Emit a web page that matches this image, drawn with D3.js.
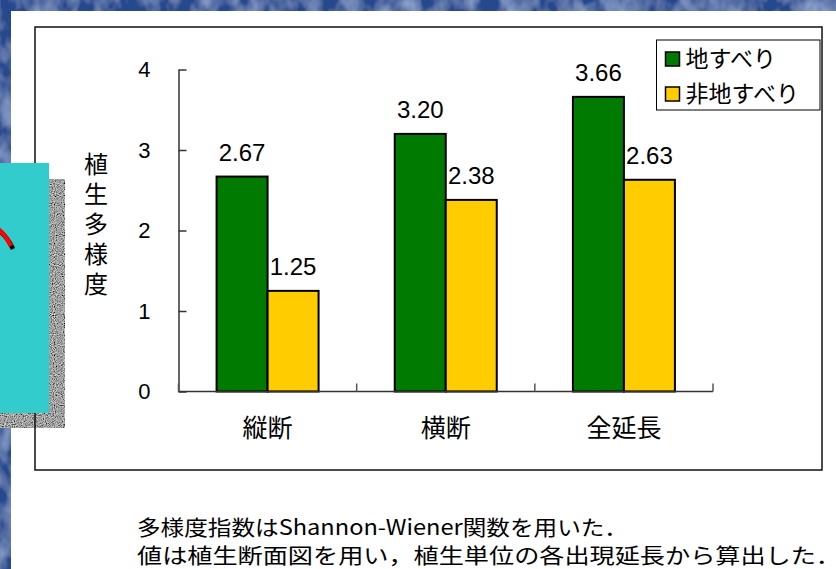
<!DOCTYPE html>
<html>
<head>
<meta charset="utf-8">
<script src="https://cdn.jsdelivr.net/npm/d3@7/dist/d3.min.js"></script>
<style>
  html, body { margin: 0; padding: 0; background: #2f5596; }
  svg { display: block; }
</style>
</head>
<body>
<svg id="chart" width="836" height="569"></svg>
<script>
'use strict';

var categories = ['縦断', '横断', '全延長'];
var seriesNames = ['地すべり', '非地すべり'];
var landslide = [2.67, 3.20, 3.66];
var nonLandslide = [1.25, 2.38, 2.63];
var yTicks = [0, 1, 2, 3, 4];
var yTitle = '植生多様度';
var notes = [
  '多様度指数はShannon-Wiener関数を用いた．',
  '値は植生断面図を用い，植生単位の各出現延長から算出した．'
];

var GREEN = '#007a00';
var YELLOW = '#ffcc00';
var JP = '"Noto Sans CJK JP", "Noto Sans", sans-serif';
var LAT = '"Liberation Sans", Arial, sans-serif';

var svg = d3.select('#chart');

// slide background texture
var defs = svg.append('defs');
var tex = defs.append('filter').attr('id', 'tex').attr('x', 0).attr('y', 0).attr('width', 1).attr('height', 1);
tex.append('feTurbulence').attr('type', 'fractalNoise').attr('baseFrequency', '0.05 0.035').attr('numOctaves', 3).attr('seed', 4);
tex.append('feColorMatrix').attr('values',
  '0 0 0 0 0.45  0 0 0 0 0.6  0 0 0 0 0.88  0 0 0 1.1 -0.4');
tex.append('feComposite').attr('in2', 'SourceGraphic').attr('operator', 'over');

var noise = defs.append('filter').attr('id', 'noise').attr('x', 0).attr('y', 0).attr('width', 1).attr('height', 1);
noise.append('feTurbulence').attr('type', 'fractalNoise').attr('baseFrequency', 0.9).attr('numOctaves', 1).attr('seed', 2);
noise.append('feColorMatrix').attr('values',
  '1.3 0 0 0 -0.3  1.3 0 0 0 -0.3  1.3 0 0 0 -0.3  0 0 0 0 1');
noise.append('feComposite').attr('in2', 'SourceAlpha').attr('operator', 'in');

svg.append('rect').attr('width', 836).attr('height', 569).attr('fill', '#27498e').attr('filter', 'url(#tex)');
svg.append('rect').attr('x', 11).attr('y', 11).attr('width', 825).attr('height', 558).attr('fill', '#fff');

// shadow of the side panel
svg.append('rect').attr('x', 0).attr('y', 179).attr('width', 65).attr('height', 249)
  .attr('fill', '#666').attr('filter', 'url(#noise)');

// chart frame
svg.append('rect').attr('x', 35).attr('y', 27).attr('width', 787).attr('height', 443)
  .attr('fill', 'none').attr('stroke', '#111').attr('stroke-width', 1.5);

// side panel
svg.append('rect').attr('x', 0).attr('y', 163).attr('width', 49).attr('height', 250).attr('fill', '#33cccc');
svg.append('path').attr('d', 'M-1,231 Q7,236 13,249').attr('fill', 'none')
  .attr('stroke', '#000').attr('stroke-width', 4.5);
svg.append('path').attr('d', 'M-2,229 Q5,234 11,246').attr('fill', 'none')
  .attr('stroke', '#ff0000').attr('stroke-width', 4.5);

// scales
var x = d3.scaleBand().domain(categories).range([178.5, 713]).padding(0);
var pairW = 102;
var xs = d3.scaleBand().domain(seriesNames)
  .range([(x.bandwidth() - pairW) / 2, (x.bandwidth() + pairW) / 2]).padding(0);
var y = d3.scaleLinear().domain([0, 4]).range([391.5, 69.5]);

// y axis
var yAxis = svg.append('g').attr('transform', 'translate(178.5,0)')
  .call(d3.axisLeft(y).tickValues(yTicks).tickFormat(d3.format('d'))
    .tickSizeInner(-8).tickSizeOuter(0).tickPadding(28));
yAxis.select('.domain').attr('stroke', '#333').attr('stroke-width', 1.5);
yAxis.selectAll('.tick line').attr('stroke', '#333').attr('stroke-width', 1.5);
yAxis.selectAll('.tick text').attr('font-family', LAT).attr('font-size', 22).attr('fill', '#000');

// bars
var rows = categories.map(function (c, i) {
  return { cat: c, values: [landslide[i], nonLandslide[i]] };
});
var groups = svg.selectAll('g.grp').data(rows).enter().append('g')
  .attr('class', 'grp').attr('transform', function (d) { return 'translate(' + x(d.cat) + ',0)'; });
groups.selectAll('rect').data(function (d) {
  return d.values.map(function (v, j) { return { s: seriesNames[j], v: v, j: j }; });
}).enter().append('rect')
  .attr('x', function (d) { return xs(d.s); })
  .attr('y', function (d) { return y(d.v); })
  .attr('width', xs.bandwidth())
  .attr('height', function (d) { return y(0) - y(d.v); })
  .attr('fill', function (d) { return d.j === 0 ? GREEN : YELLOW; })
  .attr('stroke', '#000').attr('stroke-width', 2);
groups.selectAll('text').data(function (d) {
  return d.values.map(function (v, j) { return { s: seriesNames[j], v: v }; });
}).enter().append('text')
  .attr('x', function (d) { return xs(d.s) + xs.bandwidth() / 2; })
  .attr('y', function (d) { return y(d.v) - 16; })
  .attr('text-anchor', 'middle')
  .attr('font-family', LAT).attr('font-size', 24)
  .text(function (d) { return d.v.toFixed(2); });

// x axis line and boundary ticks
svg.append('line').attr('x1', x.range()[0]).attr('x2', x.range()[1])
  .attr('y1', y(0)).attr('y2', y(0)).attr('stroke', '#333').attr('stroke-width', 1.5);
var bounds = categories.map(function (c) { return x(c); }).concat([x.range()[1]]);
svg.selectAll('line.xt').data(bounds).enter().append('line').attr('class', 'xt')
  .attr('x1', function (d) { return d; }).attr('x2', function (d) { return d; })
  .attr('y1', y(0)).attr('y2', y(0) - 8).attr('stroke', '#555').attr('stroke-width', 1.5);
svg.selectAll('text.xl').data(categories).enter().append('text').attr('class', 'xl')
  .attr('x', function (d) { return x(d) + x.bandwidth() / 2; })
  .attr('y', 437).attr('text-anchor', 'middle')
  .attr('font-family', JP).attr('font-size', 25).text(function (d) { return d; });

// y title, written vertically
svg.append('text').attr('x', 96).attr('y', 152)
  .attr('font-family', JP).attr('font-size', 24)
  .style('writing-mode', 'vertical-rl').style('letter-spacing', '6px')
  .text(yTitle);

// legend
var lg = svg.append('g').attr('transform', 'translate(656.5,40)');
lg.append('rect').attr('width', 163.5).attr('height', 70).attr('fill', '#fff')
  .attr('stroke', '#000').attr('stroke-width', 1);
seriesNames.forEach(function (name, i) {
  lg.append('rect').attr('x', 9).attr('y', 12 + i * 35).attr('width', 14).attr('height', 14)
    .attr('fill', i === 0 ? GREEN : YELLOW).attr('stroke', '#000').attr('stroke-width', 1.5);
  lg.append('text').attr('x', 29).attr('y', 27 + i * 35)
    .attr('font-family', JP).attr('font-size', 23).text(name);
});

// notes under the chart
var noteLen = [491, 704];
svg.selectAll('text.note').data(notes).enter().append('text').attr('class', 'note')
  .attr('x', 137).attr('y', function (d, i) { return 535 + i * 28; })
  .attr('font-family', JP).attr('font-size', 21)
  .attr('textLength', function (d, i) { return noteLen[i]; })
  .attr('lengthAdjust', 'spacingAndGlyphs')
  .text(function (d) { return d; });
</script>
</body>
</html>
